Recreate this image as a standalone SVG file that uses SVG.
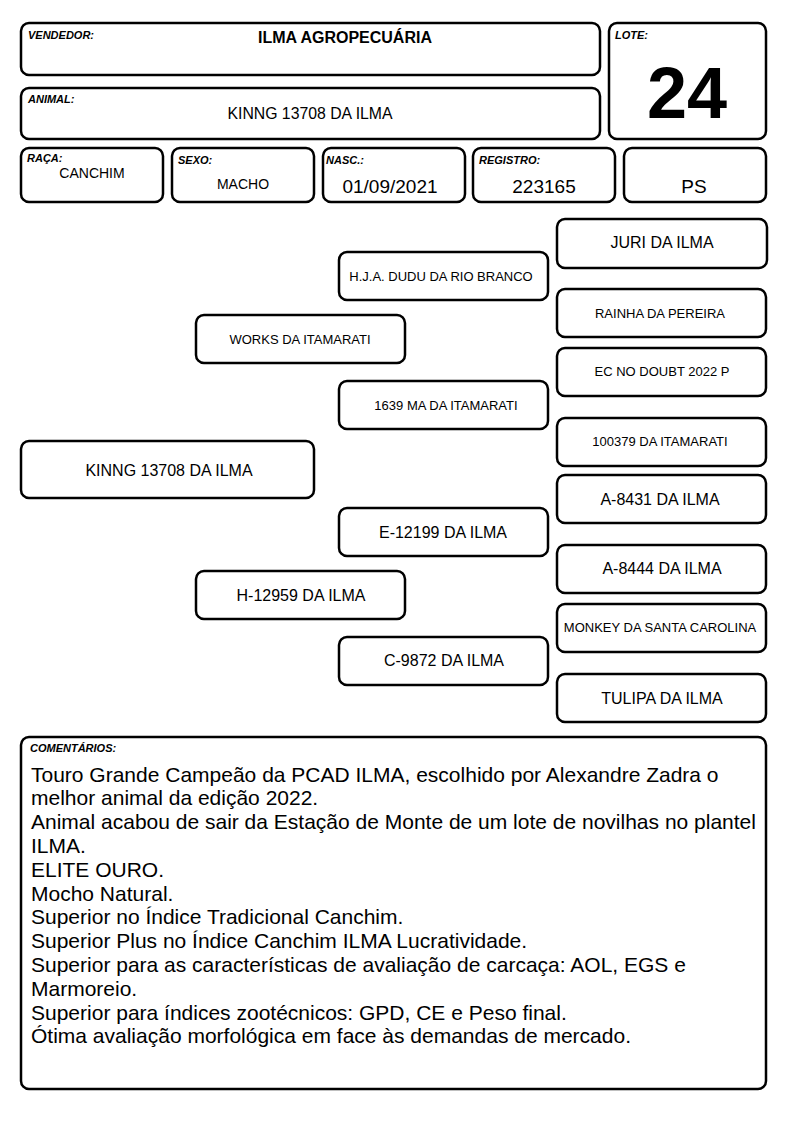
<svg xmlns="http://www.w3.org/2000/svg" width="794" height="1123" viewBox="0 0 794 1123">
<style>
.b{fill:#fff;stroke:#000;stroke-width:2.5}
.lbl{font-family:"Liberation Sans",Arial,sans-serif;font-size:11px;font-weight:bold;font-style:italic;fill:#000}
.t{font-family:"Liberation Sans",Arial,sans-serif;fill:#000;text-anchor:middle}
.s{font-size:13px}
.m{font-size:16px}
.c{font-family:"Liberation Sans",Arial,sans-serif;font-size:21px;fill:#000}
</style>
<rect width="794" height="1123" fill="#fff"/>
<g id="vendedor"><rect class="b" x="21" y="23" width="579" height="52" rx="8"/><text class="lbl" x="28" y="39">VENDEDOR:</text><text class="t" x="345" y="43" font-size="16" font-weight="bold">ILMA AGROPECUÁRIA</text></g>
<g id="animal"><rect class="b" x="21" y="88" width="579" height="51" rx="8"/><text class="lbl" x="28" y="103">ANIMAL:</text><text class="t" x="310" y="119" font-size="15.8">KINNG 13708 DA ILMA</text></g>
<g id="lote"><rect class="b" x="609" y="23" width="157" height="116" rx="8"/><text class="lbl" x="615" y="39">LOTE:</text><text class="t" x="687" y="118" font-size="72" font-weight="bold">24</text></g>
<g id="raca"><rect class="b" x="21" y="148" width="142" height="54" rx="8"/><text class="lbl" x="27" y="162">RAÇA:</text><text class="t" x="92" y="178" font-size="14">CANCHIM</text></g>
<g id="sexo"><rect class="b" x="172" y="148" width="142" height="54" rx="8"/><text class="lbl" x="178" y="164">SEXO:</text><text class="t" x="243" y="189" font-size="14">MACHO</text></g>
<g id="nasc"><rect class="b" x="323" y="148" width="142" height="54" rx="8"/><text class="lbl" x="326" y="164">NASC.:</text><text class="t" x="390" y="193" font-size="19">01/09/2021</text></g>
<g id="registro"><rect class="b" x="473" y="148" width="142" height="54" rx="8"/><text class="lbl" x="479" y="164">REGISTRO:</text><text class="t" x="544" y="193" font-size="19">223165</text></g>
<g id="ps"><rect class="b" x="624" y="148" width="142" height="54" rx="8"/><text class="t" x="694" y="193" font-size="19">PS</text></g>
<g id="p-juri"><rect class="b" x="557" y="219" width="210" height="49" rx="8"/><text class="t m" x="662" y="248">JURI DA ILMA</text></g>
<g id="p-hja"><rect class="b" x="339" y="252" width="209" height="48" rx="8"/><text class="t s" x="441" y="281">H.J.A. DUDU DA RIO BRANCO</text></g>
<g id="p-rainha"><rect class="b" x="557" y="289" width="209" height="48" rx="8"/><text class="t s" x="660" y="318">RAINHA DA PEREIRA</text></g>
<g id="p-works"><rect class="b" x="196" y="315" width="209" height="48" rx="8"/><text class="t s" x="300" y="344">WORKS DA ITAMARATI</text></g>
<g id="p-ec"><rect class="b" x="557" y="348" width="209" height="48" rx="8"/><text class="t s" x="662" y="376">EC NO DOUBT 2022 P</text></g>
<g id="p-1639"><rect class="b" x="339" y="381" width="209" height="48" rx="8"/><text class="t s" x="446" y="410">1639 MA DA ITAMARATI</text></g>
<g id="p-100379"><rect class="b" x="557" y="418" width="209" height="48" rx="8"/><text class="t s" x="660" y="446">100379 DA ITAMARATI</text></g>
<g id="p-kinng"><rect class="b" x="21" y="441" width="293" height="57" rx="8"/><text class="t m" x="169" y="476">KINNG 13708 DA ILMA</text></g>
<g id="p-a8431"><rect class="b" x="557" y="475" width="209" height="48" rx="8"/><text class="t m" x="660" y="505">A-8431 DA ILMA</text></g>
<g id="p-e12199"><rect class="b" x="339" y="508" width="209" height="48" rx="8"/><text class="t m" x="443" y="538">E-12199 DA ILMA</text></g>
<g id="p-a8444"><rect class="b" x="557" y="545" width="209" height="48" rx="8"/><text class="t m" x="662" y="574">A-8444 DA ILMA</text></g>
<g id="p-h12959"><rect class="b" x="196" y="571" width="209" height="48" rx="8"/><text class="t m" x="301" y="601">H-12959 DA ILMA</text></g>
<g id="p-monkey"><rect class="b" x="557" y="604" width="209" height="48" rx="8"/><text class="t s" x="660" y="632">MONKEY DA SANTA CAROLINA</text></g>
<g id="p-c9872"><rect class="b" x="339" y="637" width="209" height="48" rx="8"/><text class="t m" x="444" y="666">C-9872 DA ILMA</text></g>
<g id="p-tulipa"><rect class="b" x="557" y="674" width="209" height="48" rx="8"/><text class="t m" x="662" y="704">TULIPA DA ILMA</text></g>
<g id="connectors"></g>
<g id="comentarios"><rect class="b" x="21" y="737" width="745" height="352" rx="8"/><text class="lbl" x="30" y="752">COMENTÁRIOS:</text>
<text class="c" x="31" y="781.5">Touro Grande Campeão da PCAD ILMA, escolhido por Alexandre Zadra o</text>
<text class="c" x="31" y="805.3">melhor animal da edição 2022.</text>
<text class="c" x="31" y="829.1">Animal acabou de sair da Estação de Monte de um lote de novilhas no plantel</text>
<text class="c" x="31" y="852.9">ILMA.</text>
<text class="c" x="31" y="876.7">ELITE OURO.</text>
<text class="c" x="31" y="900.5">Mocho Natural.</text>
<text class="c" x="31" y="924.3">Superior no Índice Tradicional Canchim.</text>
<text class="c" x="31" y="948.1">Superior Plus no Índice Canchim ILMA Lucratividade.</text>
<text class="c" x="31" y="971.9">Superior para as características de avaliação de carcaça: AOL, EGS e</text>
<text class="c" x="31" y="995.7">Marmoreio.</text>
<text class="c" x="31" y="1019.5">Superior para índices zootécnicos: GPD, CE e Peso final.</text>
<text class="c" x="31" y="1043.3">Ótima avaliação morfológica em face às demandas de mercado.</text>
</g>
</svg>
